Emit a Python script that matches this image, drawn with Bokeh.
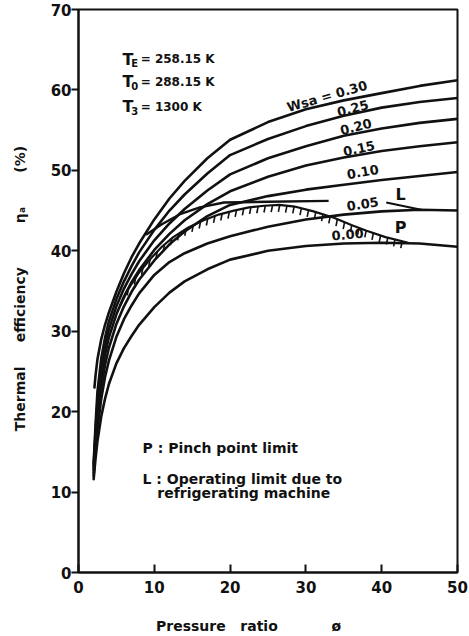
import numpy as np
from bokeh.plotting import figure
from bokeh.models import Range1d, Label, FixedTicker
from bokeh.embed import file_html
from bokeh.resources import INLINE

FONT = "DejaVu Sans"
INK = "#111111"
NB = "\u00a0"

# ---------------- data ----------------
pr = [2.0, 2.25, 2.5, 3, 3.5, 4, 5, 6, 7, 8, 10, 12, 14, 17, 20, 25, 30, 35, 40, 45, 50]
pr_030 = [2.1, 2.25, 2.5, 3, 3.5, 4, 5, 6, 7, 8, 10, 12, 14, 17, 20, 25, 30, 35, 40, 45, 50]

eta_030 = [23.0, 24.5, 26.5, 29.0, 30.8, 32.3, 34.9, 37.2, 39.2, 40.9, 43.9, 46.5, 48.7, 51.5, 53.8, 56.0, 57.6, 58.7, 59.6, 60.5, 61.2]
eta_025 = [13.6, 18.4, 22.5, 26.6, 29.2, 31.2, 34.0, 36.2, 38.1, 39.8, 42.6, 45.0, 47.0, 49.6, 51.9, 53.9, 55.5, 56.8, 57.8, 58.5, 59.0]
eta_020 = [13.2, 17.6, 21.2, 25.5, 28.2, 30.2, 33.1, 35.3, 37.1, 38.7, 41.3, 43.4, 45.2, 47.5, 49.5, 51.5, 53.0, 54.3, 55.2, 55.9, 56.4]
eta_015 = [12.8, 16.8, 20.0, 24.3, 27.1, 29.2, 32.1, 34.3, 36.1, 37.6, 40.1, 42.1, 43.8, 45.8, 47.4, 49.2, 50.6, 51.6, 52.4, 53.0, 53.5]
eta_010 = [12.4, 16.0, 18.9, 23.0, 25.8, 27.9, 30.9, 33.1, 34.9, 36.4, 38.8, 40.8, 42.4, 44.3, 45.7, 46.8, 47.6, 48.2, 48.8, 49.3, 49.8]
eta_005 = [12.0, 15.2, 17.8, 21.6, 24.3, 26.3, 29.3, 31.5, 33.2, 34.7, 37.0, 38.6, 39.7, 40.9, 41.8, 43.0, 43.9, 44.5, 44.9, 45.1, 45.0]
eta_000 = [11.6, 14.2, 16.3, 19.4, 21.6, 23.4, 26.0, 27.9, 29.4, 30.8, 33.0, 34.8, 36.2, 37.7, 38.9, 40.0, 40.6, 40.9, 41.0, 40.9, 40.5]

# pinch point limit P (hatched)
p_x = [5.5, 6.6, 8, 9.5, 11, 12.5, 14.5, 16.5, 18.5, 20.5, 22.5, 24.5, 26.5, 28.5, 31, 33.7, 36, 38, 40.5, 43.5]
p_eta = [33.2, 35.3, 37.3, 39.0, 40.5, 41.7, 42.9, 43.8, 44.5, 45.0, 45.4, 45.6, 45.7, 45.5, 44.9, 44.1, 43.2, 42.5, 41.7, 41.0]

# operating limit L
l_x = [8.9, 11, 13.5, 16, 19.2, 25, 33]
l_eta = [42.0, 43.3, 44.6, 45.4, 46.0, 46.1, 46.2]
l_ptr_x = [40.6, 45.2]
l_ptr_eta = [46.0, 45.1]

wsa_labels = ["Wsa = 0.30", "0.25", "0.20", "0.15", "0.10", "0.05", "0.00"]
x_ticks = [0, 10, 20, 30, 40, 50]
y_ticks = [0, 10, 20, 30, 40, 50, 60, 70]

# ---------------- figure ----------------
p = figure(width=469, height=636, x_range=Range1d(0, 50), y_range=Range1d(0, 70),
           output_backend="svg", toolbar_location=None,
           min_border_left=78, min_border_right=12, min_border_top=9, min_border_bottom=62)
p.background_fill_color = "white"
p.border_fill_color = "white"
p.grid.visible = False
p.outline_line_color = INK
p.outline_line_width = 2

p.xaxis.ticker = FixedTicker(ticks=x_ticks)
p.yaxis.ticker = FixedTicker(ticks=y_ticks)
p.axis.axis_line_width = 2
p.axis.axis_line_color = INK
p.axis.major_tick_line_width = 2
p.axis.major_tick_line_color = INK
p.axis.minor_tick_line_color = None
p.axis.major_label_text_font = FONT
p.axis.major_label_text_font_size = "15px"
p.axis.major_label_text_font_style = "bold"
p.axis.major_label_text_color = INK
p.xaxis.major_tick_in = 8
p.xaxis.major_tick_out = 0
p.xaxis.major_label_standoff = 8
p.yaxis.major_tick_in = 0
p.yaxis.major_tick_out = 7
p.yaxis.major_label_standoff = 0

# axis titles
p.yaxis.axis_label = (NB + "Thermal" + NB * 5 + "efficiency" + NB * 9 + "η\u2090" + NB * 7 + "(%)")
p.xaxis.axis_label = ("Pressure" + NB * 3 + "ratio" + NB * 11 + "ø" + NB * 8)
for ax in (p.xaxis, p.yaxis):
    ax.axis_label_text_font = FONT
    ax.axis_label_text_font_size = "14px"
    ax.axis_label_text_font_style = "bold"
    ax.axis_label_text_color = INK
p.yaxis.axis_label_standoff = 20
p.xaxis.axis_label_standoff = 22

curves = [(pr_030, eta_030), (pr, eta_025), (pr, eta_020), (pr, eta_015),
          (pr, eta_010), (pr, eta_005), (pr, eta_000)]
for xs, ys in curves:
    p.line(xs, ys, line_color=INK, line_width=2.6, line_join="round", line_cap="round")

# P limit and its hatching
p.line(p_x, p_eta, line_color=INK, line_width=2.2, line_join="round")
hx = np.arange(6.6, 43.2, 0.95)
hy = np.interp(hx, p_x, p_eta)
p.segment(x0=hx, y0=hy, x1=hx - 0.18, y1=hy - 0.85, line_color=INK, line_width=1.6)

# L limit
p.line(l_x, l_eta, line_color=INK, line_width=2.4, line_join="round")
p.line(l_ptr_x, l_ptr_eta, line_color=INK, line_width=2.2)


def lab(x, y, text, size, angle=0, align="left", style="bold"):
    p.add_layout(Label(x=x, y=y, text=text,
                       text_font=FONT, text_font_size=size, text_font_style=style,
                       text_color=INK, text_align=align, text_baseline="middle",
                       angle=angle, angle_units="deg"))


# curve labels
lab_pos = [(32.8, 59.2, 16), (36.2, 57.7, 15), (36.6, 55.4, 14), (37.0, 52.7, 12),
           (37.5, 49.8, 10), (37.5, 45.8, 9), (35.5, 42.0, 5)]
for t, (x, y, a) in zip(wsa_labels, lab_pos):
    lab(x, y, t, "13px", angle=a, align="center")
lab(42.5, 47.0, "L", "16px", align="center")
lab(42.5, 42.9, "P", "16px", align="center")

# temperature block
temps = [("E", "= 258.15 K", 63.8), ("0", "= 288.15 K", 61.0), ("3", "= 1300 K", 57.9)]
for sub, rest, y in temps:
    lab(5.8, y, "T", "16px")
    lab(6.95, y - 0.55, sub, "10px")
    lab(8.2, y, rest, "12px")

# notes
lab(8.45, 15.5, "P : Pinch point limit", "14px")
lab(8.45, 11.6, "L : Operating limit due to", "14px")
lab(10.4, 9.9, "refrigerating machine", "14px")

open("out.html", "w").write(file_html(p, INLINE))
